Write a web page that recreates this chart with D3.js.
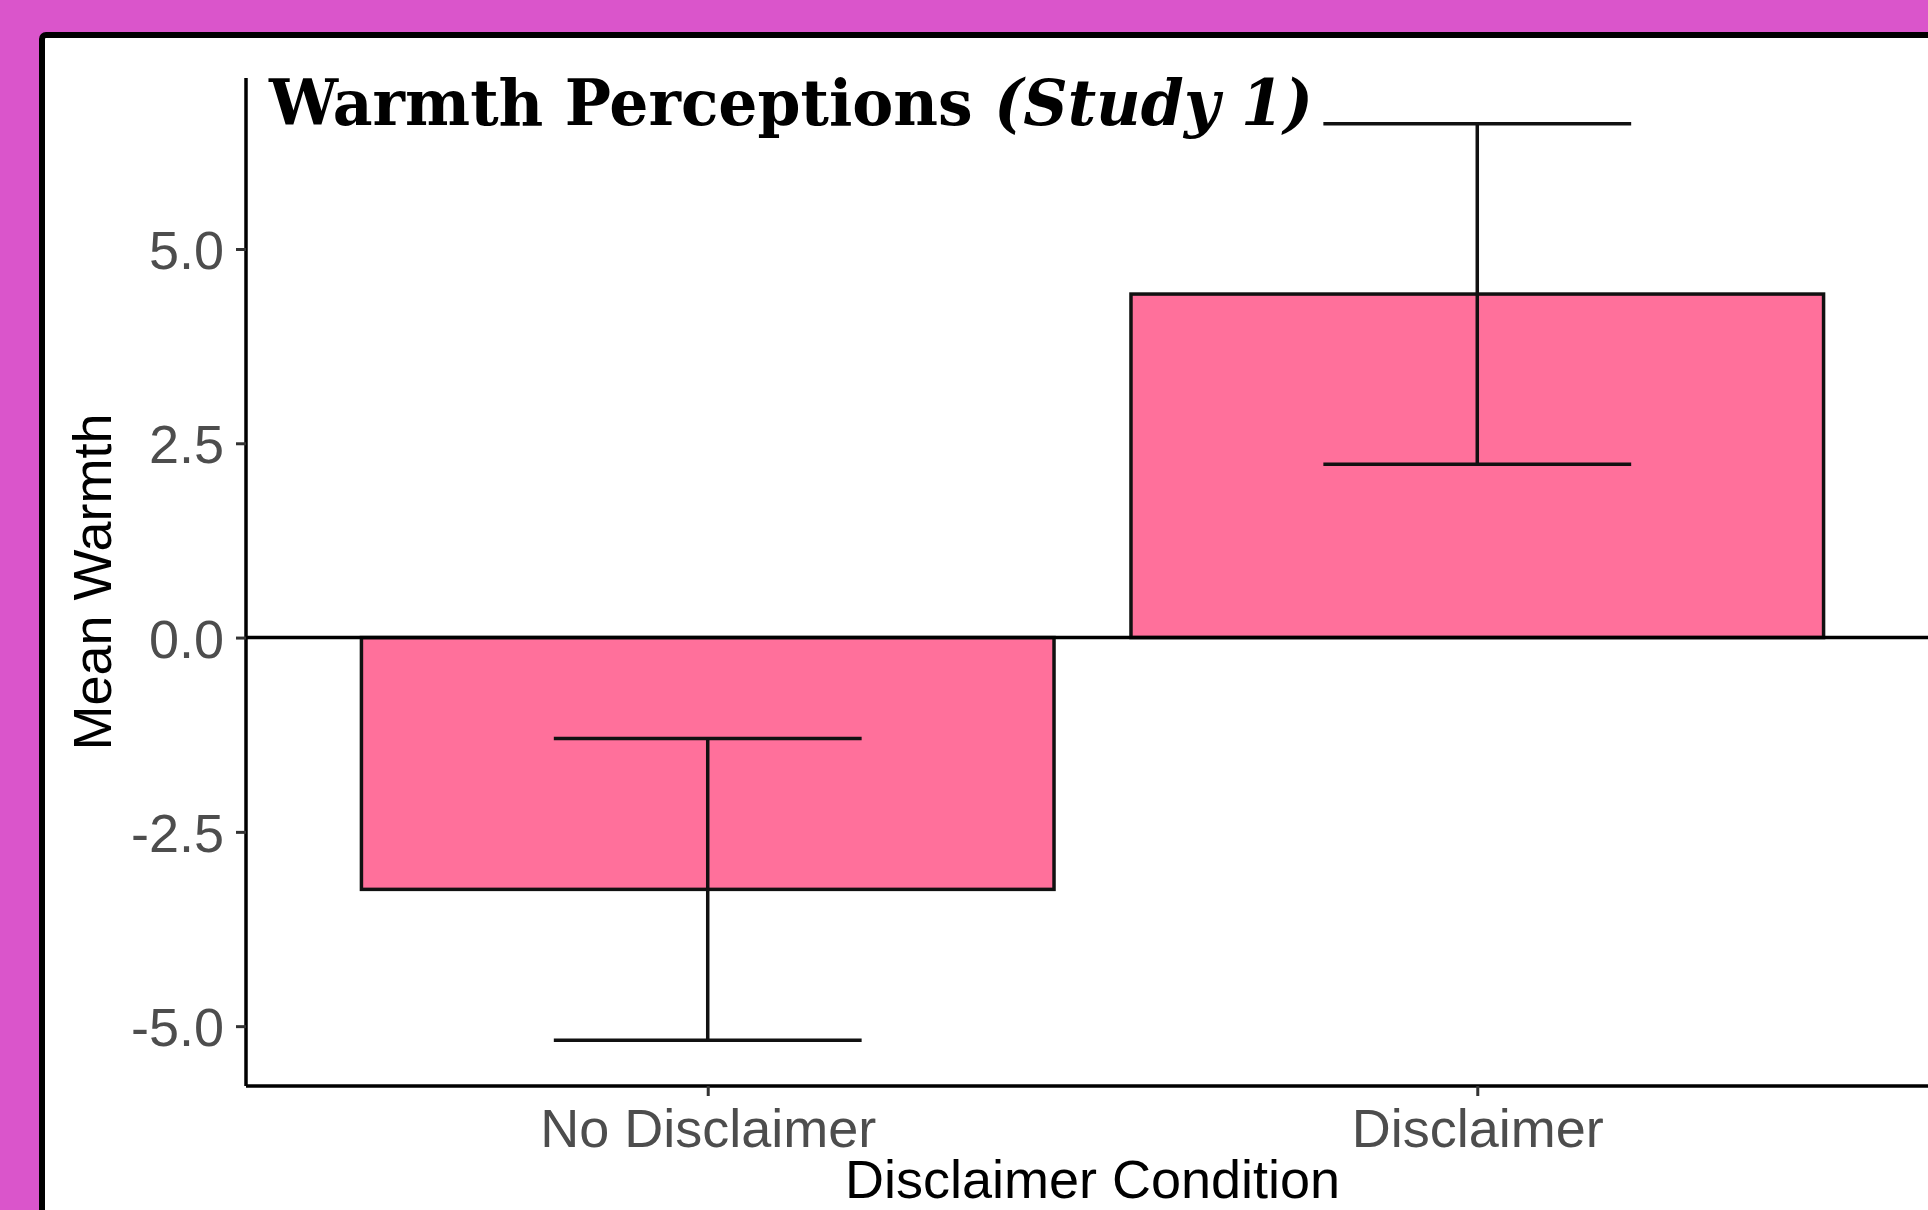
<!DOCTYPE html>
<html>
<head>
<meta charset="utf-8">
<script src="https://cdn.jsdelivr.net/npm/d3@7"></script>
<style>
  html, body { margin: 0; padding: 0; background: #DA55CB; overflow: hidden; }
  svg { display: block; }
</style>
</head>
<body>
<svg id="chart"></svg>
<script>
// data
const conditions = ["No Disclaimer", "Disclaimer"]
const meanWarmth = [-3.24, 4.42]
const ciLow = [-5.18, 2.23]
const ciHigh = [-1.30, 6.61]
const yTicks = [-5.0, -2.5, 0.0, 2.5, 5.0]

const width = 1928
const height = 1210

const svg = d3.select("#chart")
    .attr("width", width)
    .attr("height", height)

// white card with black frame (runs off the right and bottom)
svg.append("rect")
    .attr("x", 42).attr("y", 35)
    .attr("width", 2000).attr("height", 1300)
    .attr("rx", 4)
    .style("fill", "#fff")
    .style("stroke", "#000")
    .style("stroke-width", 6)

const plotLeft = 246, plotRight = 1939, plotTop = 78, plotBottom = 1086

const x = d3.scalePoint()
    .domain(conditions)
    .range([plotLeft, plotRight])
    .padding(0.6)
const step = x.step()

const y = d3.scaleLinear()
    .domain([-5.77, 7.2])
    .range([plotBottom, plotTop])

const g = svg.append("g")

// bars
g.selectAll(".bar")
    .data(conditions)
    .enter()
    .append("rect")
      .attr("class", "bar")
      .attr("x", d => x(d) - step * 0.45)
      .attr("width", step * 0.9)
      .attr("y", (d, i) => y(Math.max(0, meanWarmth[i])))
      .attr("height", (d, i) => Math.abs(y(meanWarmth[i]) - y(0)))
      .style("fill", "#FF709B")
      .style("stroke", "#111")
      .style("stroke-width", 3.5)

// zero line
g.append("line")
    .attr("x1", plotLeft).attr("x2", plotRight)
    .attr("y1", y(0)).attr("y2", y(0))
    .style("stroke", "#000")
    .style("stroke-width", 3.5)

// error bars
const eb = g.selectAll(".eb")
    .data(conditions)
    .enter()
    .append("g")
    .attr("class", "eb")
    .style("stroke", "#111")
    .style("stroke-width", 3.5)
eb.append("line")
    .attr("x1", d => x(d)).attr("x2", d => x(d))
    .attr("y1", (d, i) => y(ciHigh[i])).attr("y2", (d, i) => y(ciLow[i]))
eb.append("line")
    .attr("x1", d => x(d) - step * 0.2).attr("x2", d => x(d) + step * 0.2)
    .attr("y1", (d, i) => y(ciHigh[i])).attr("y2", (d, i) => y(ciHigh[i]))
eb.append("line")
    .attr("x1", d => x(d) - step * 0.2).attr("x2", d => x(d) + step * 0.2)
    .attr("y1", (d, i) => y(ciLow[i])).attr("y2", (d, i) => y(ciLow[i]))

// axes
const yAxis = g.append("g")
    .attr("transform", "translate(" + plotLeft + ",0)")
    .call(d3.axisLeft(y).tickValues(yTicks)
        .tickFormat(d => d.toFixed(1))   // plain hyphen, like R
        .tickSize(10).tickPadding(12))
yAxis.select(".domain").attr("d", "M0," + plotTop + "V" + plotBottom)

const xAxis = g.append("g")
    .attr("transform", "translate(0," + plotBottom + ")")
    .call(d3.axisBottom(x).tickSize(10).tickPadding(14))
xAxis.select(".domain").attr("d", "M" + plotLeft + ",0H" + plotRight)

g.selectAll(".domain").style("stroke", "#000").style("stroke-width", 3.5)
g.selectAll(".tick line").style("stroke", "#333").style("stroke-width", 3)
g.selectAll(".tick text")
    .style("font-family", "'Liberation Sans', Arial, sans-serif")
    .style("font-size", "54px")
    .style("fill", "#4D4D4D")
yAxis.selectAll(".tick text").attr("dy", "0.36em")
xAxis.selectAll(".tick text").attr("dy", "0.68em")

// axis titles
svg.append("text")
    .attr("x", (plotLeft + plotRight) / 2)
    .attr("y", 1198)
    .attr("text-anchor", "middle")
    .style("font-family", "'Liberation Sans', Arial, sans-serif")
    .style("font-size", "54px")
    .style("fill", "#000")
    .text("Disclaimer Condition")

svg.append("text")
    .attr("transform", "translate(111," + (plotTop + plotBottom) / 2 + ") rotate(-90)")
    .attr("text-anchor", "middle")
    .style("font-family", "'Liberation Sans', Arial, sans-serif")
    .style("font-size", "54px")
    .style("fill", "#000")
    .text("Mean Warmth")

// title
const title = svg.append("text")
    .attr("x", 269)
    .attr("y", 125)
    .attr("textLength", 1044)
    .attr("lengthAdjust", "spacingAndGlyphs")
    .style("font-family", "'DejaVu Serif', serif")
    .style("font-weight", "bold")
    .style("font-size", "63px")
    .style("fill", "#000")
title.append("tspan").text("Warmth Perceptions ")
title.append("tspan").style("font-style", "italic").text("(Study 1)")
</script>
</body>
</html>
